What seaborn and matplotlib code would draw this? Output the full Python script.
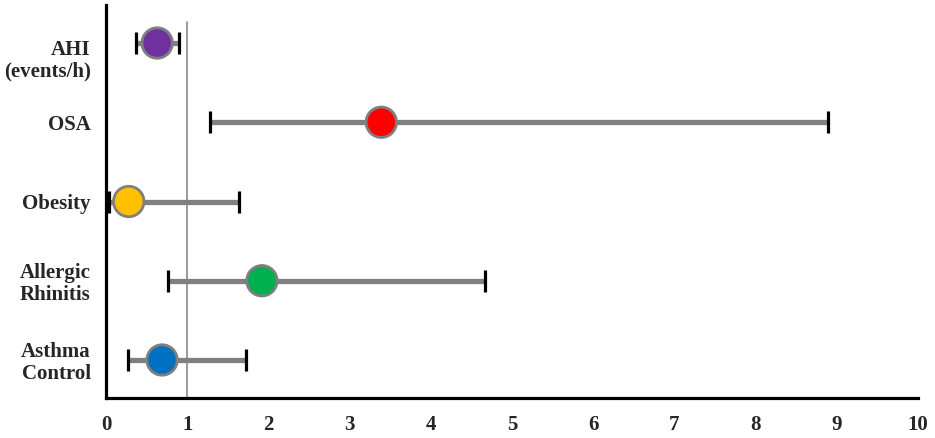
import numpy as np
import pandas as pd
import seaborn as sns
import matplotlib.pyplot as plt
from matplotlib.transforms import ScaledTranslation

# Data
labels = ["AHI\n(events/h)", "OSA", "Obesity", "Allergic\nRhinitis", "Asthma\nControl"]
estimate = [0.63, 3.39, 0.28, 1.92, 0.69]
lower = [0.37, 1.28, 0.04, 0.76, 0.27]
upper = [0.90, 8.89, 1.64, 4.67, 1.72]
colors = ["#7030A0", "#FF0000", "#FFC000", "#00B050", "#0070C0"]
xticks = list(range(0, 11))

sns.set_style("white")
plt.rcParams['font.family'] = ['Liberation Serif', 'DejaVu Serif']

df = pd.DataFrame({"label": labels, "est": estimate, "lo": lower, "hi": upper})
df["pos"] = np.arange(len(df))

fig = plt.figure(figsize=(9.35, 4.38), dpi=100)
ax = fig.add_axes([0.1134, 0.0913, 0.8684, 0.8973])

# reference line at 1
ax.axvline(1, ymin=0, ymax=0.957, color="#7f7f7f", lw=1.1, zorder=1)

# confidence intervals
eb = ax.errorbar(df["est"], df["pos"],
                 xerr=[df["est"] - df["lo"], df["hi"] - df["est"]],
                 fmt="none", ecolor="#808080", elinewidth=3.8,
                 capsize=8, capthick=2.3, zorder=2)
for cap in eb[1]:
    cap.set_color("black")
    cap.set_markeredgecolor("black")
    cap.set_zorder(2.5)

# point estimates
sns.scatterplot(data=df, x="est", y="pos", hue="label", palette=colors,
                s=480, edgecolor="#7f7f7f", linewidth=2, legend=False,
                zorder=3, ax=ax)

ax.set_xlim(0, 10)
ax.set_ylim(4.48, -0.48)
ax.set_xticks(xticks)
ax.set_xticklabels([str(t) for t in xticks], fontsize=15, fontweight="bold")
ax.set_yticks(df["pos"])
ax.set_yticklabels(labels, fontsize=15, fontweight="bold", linespacing=1.1)
ax.tick_params(axis="both", length=0)
ax.tick_params(axis="x", pad=12)
ax.tick_params(axis="y", pad=11)
ax.set_xlabel("")
ax.set_ylabel("")

# AHI label sits a little below its row in the original
first = ax.get_yticklabels()[0]
first.set_transform(first.get_transform() + ScaledTranslation(0, -0.14, fig.dpi_scale_trans))

for side in ["top", "right"]:
    ax.spines[side].set_visible(False)
for side in ["left", "bottom"]:
    ax.spines[side].set_color("black")
    ax.spines[side].set_linewidth(2.3)

fig.savefig("out.png", dpi=100)
